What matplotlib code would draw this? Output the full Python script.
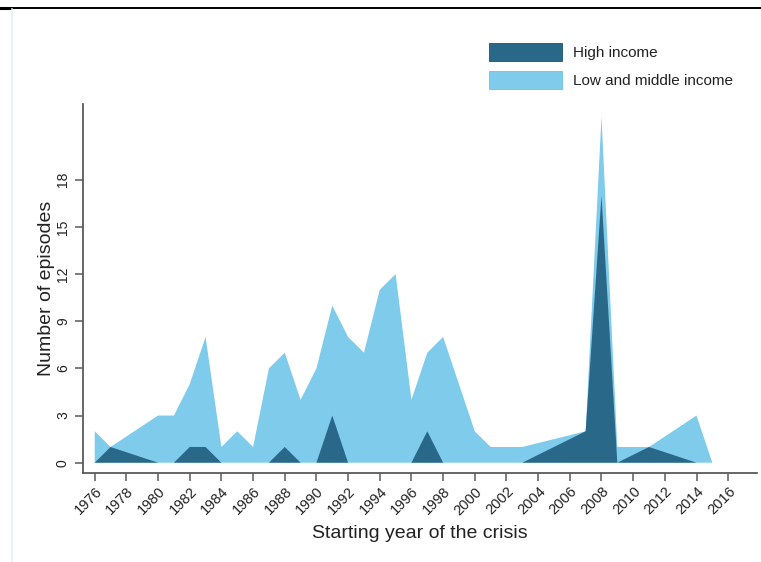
import matplotlib
matplotlib.use("Agg")
import matplotlib.pyplot as plt
from matplotlib.lines import Line2D
from matplotlib.patches import Patch

plt.rcParams['font.family'] = ['Liberation Sans', 'DejaVu Sans']

# Low and middle income (light area), vertices as read
lmi_years = [1976, 1977, 1980, 1981, 1982, 1983, 1984, 1985, 1986, 1987, 1988, 1989,
             1990, 1991, 1992, 1993, 1994, 1995, 1996, 1997, 1998, 1999, 2000, 2001,
             2003, 2007, 2008, 2009, 2011, 2014, 2015]
lmi_values = [2, 1, 3, 3, 5, 8, 1, 2, 1, 6, 7, 4,
              6, 10, 8, 7, 11, 12, 4, 7, 8, 5, 2, 1,
              1, 2, 22, 1, 1, 3, 0]

# High income (dark area)
hi_years = [1976, 1977, 1980, 1981, 1982, 1983, 1984, 1987, 1988, 1989, 1990, 1991,
            1992, 1996, 1997, 1998, 2003, 2007, 2008, 2009, 2011, 2014]
hi_values = [0, 1, 0, 0, 1, 1, 0, 0, 1, 0, 0, 3,
             0, 0, 2, 0, 0, 2, 17, 0, 1, 0]

y_ticks = [0, 3, 6, 9, 12, 15, 18]
x_ticks = list(range(1976, 2017, 2))

series_labels = ["High income", "Low and middle income"]
dark = "#2a6889"
light = "#7fcbeb"

W, H = 761, 562
fig = plt.figure(figsize=(W / 100, H / 100), dpi=100)
fig.patch.set_facecolor("white")

# page decorations
fig.add_artist(Line2D([0, 1], [1 - 7.5 / H] * 2, color="black", lw=1.4))
fig.add_artist(Line2D([0, 10 / W], [1 - 8.2 / H] * 2, color="black", lw=2.2))
fig.add_artist(Line2D([11.5 / W] * 2, [0.0, 1 - 9 / H], color="#e6f2f4", lw=1.2))

left, right, bottom, top = 83, 757, 473, 104
ax = fig.add_axes([left / W, 1 - bottom / H, (right - left) / W, (bottom - top) / H])

ax.fill_between(lmi_years, 0, lmi_values, facecolor=light, edgecolor="none", lw=0, zorder=2)
ax.fill_between(hi_years, 0, hi_values, facecolor=dark, edgecolor="none", lw=0, zorder=3)

ax.set_xlim(1975.26, 2017.82)
ax.set_ylim(-0.655, 22.82)

for s in ["top", "right"]:
    ax.spines[s].set_visible(False)
for s in ["left", "bottom"]:
    ax.spines[s].set_color("#5a5a5a")
    ax.spines[s].set_linewidth(1.3)

ax.set_yticks(y_ticks)
ax.set_yticklabels([str(v) for v in y_ticks], rotation=90, va="center", fontsize=10)
ax.set_xticks(x_ticks)
ax.set_xticklabels([str(v) for v in x_ticks], rotation=45, ha="right",
                   rotation_mode="anchor", fontsize=10.5)
ax.tick_params(axis="both", length=5.8, width=1.1, color="#5a5a5a", labelcolor="#222222")
ax.tick_params(axis="y", pad=3.6)
ax.tick_params(axis="x", pad=2.5)

ax.set_ylabel("Number of episodes", fontsize=14, color="#222222", labelpad=1)
ax.set_xlabel("Starting year of the crisis", fontsize=14, color="#222222", labelpad=5)

handles = [Patch(facecolor=dark, edgecolor="#1d5472", lw=0.6),
           Patch(facecolor=light, edgecolor="#6fc2e6", lw=0.6)]
leg = fig.legend(handles, series_labels, loc="upper left",
                 bbox_to_anchor=(489 / W, 1 - 42.7 / H), frameon=False, borderpad=0,
                 borderaxespad=0, handlelength=4.8, handleheight=1.5,
                 labelspacing=0.6, handletextpad=0.7, fontsize=11)
for t in leg.get_texts():
    t.set_color("#222222")

fig.savefig("out.png", dpi=100, facecolor="white")
